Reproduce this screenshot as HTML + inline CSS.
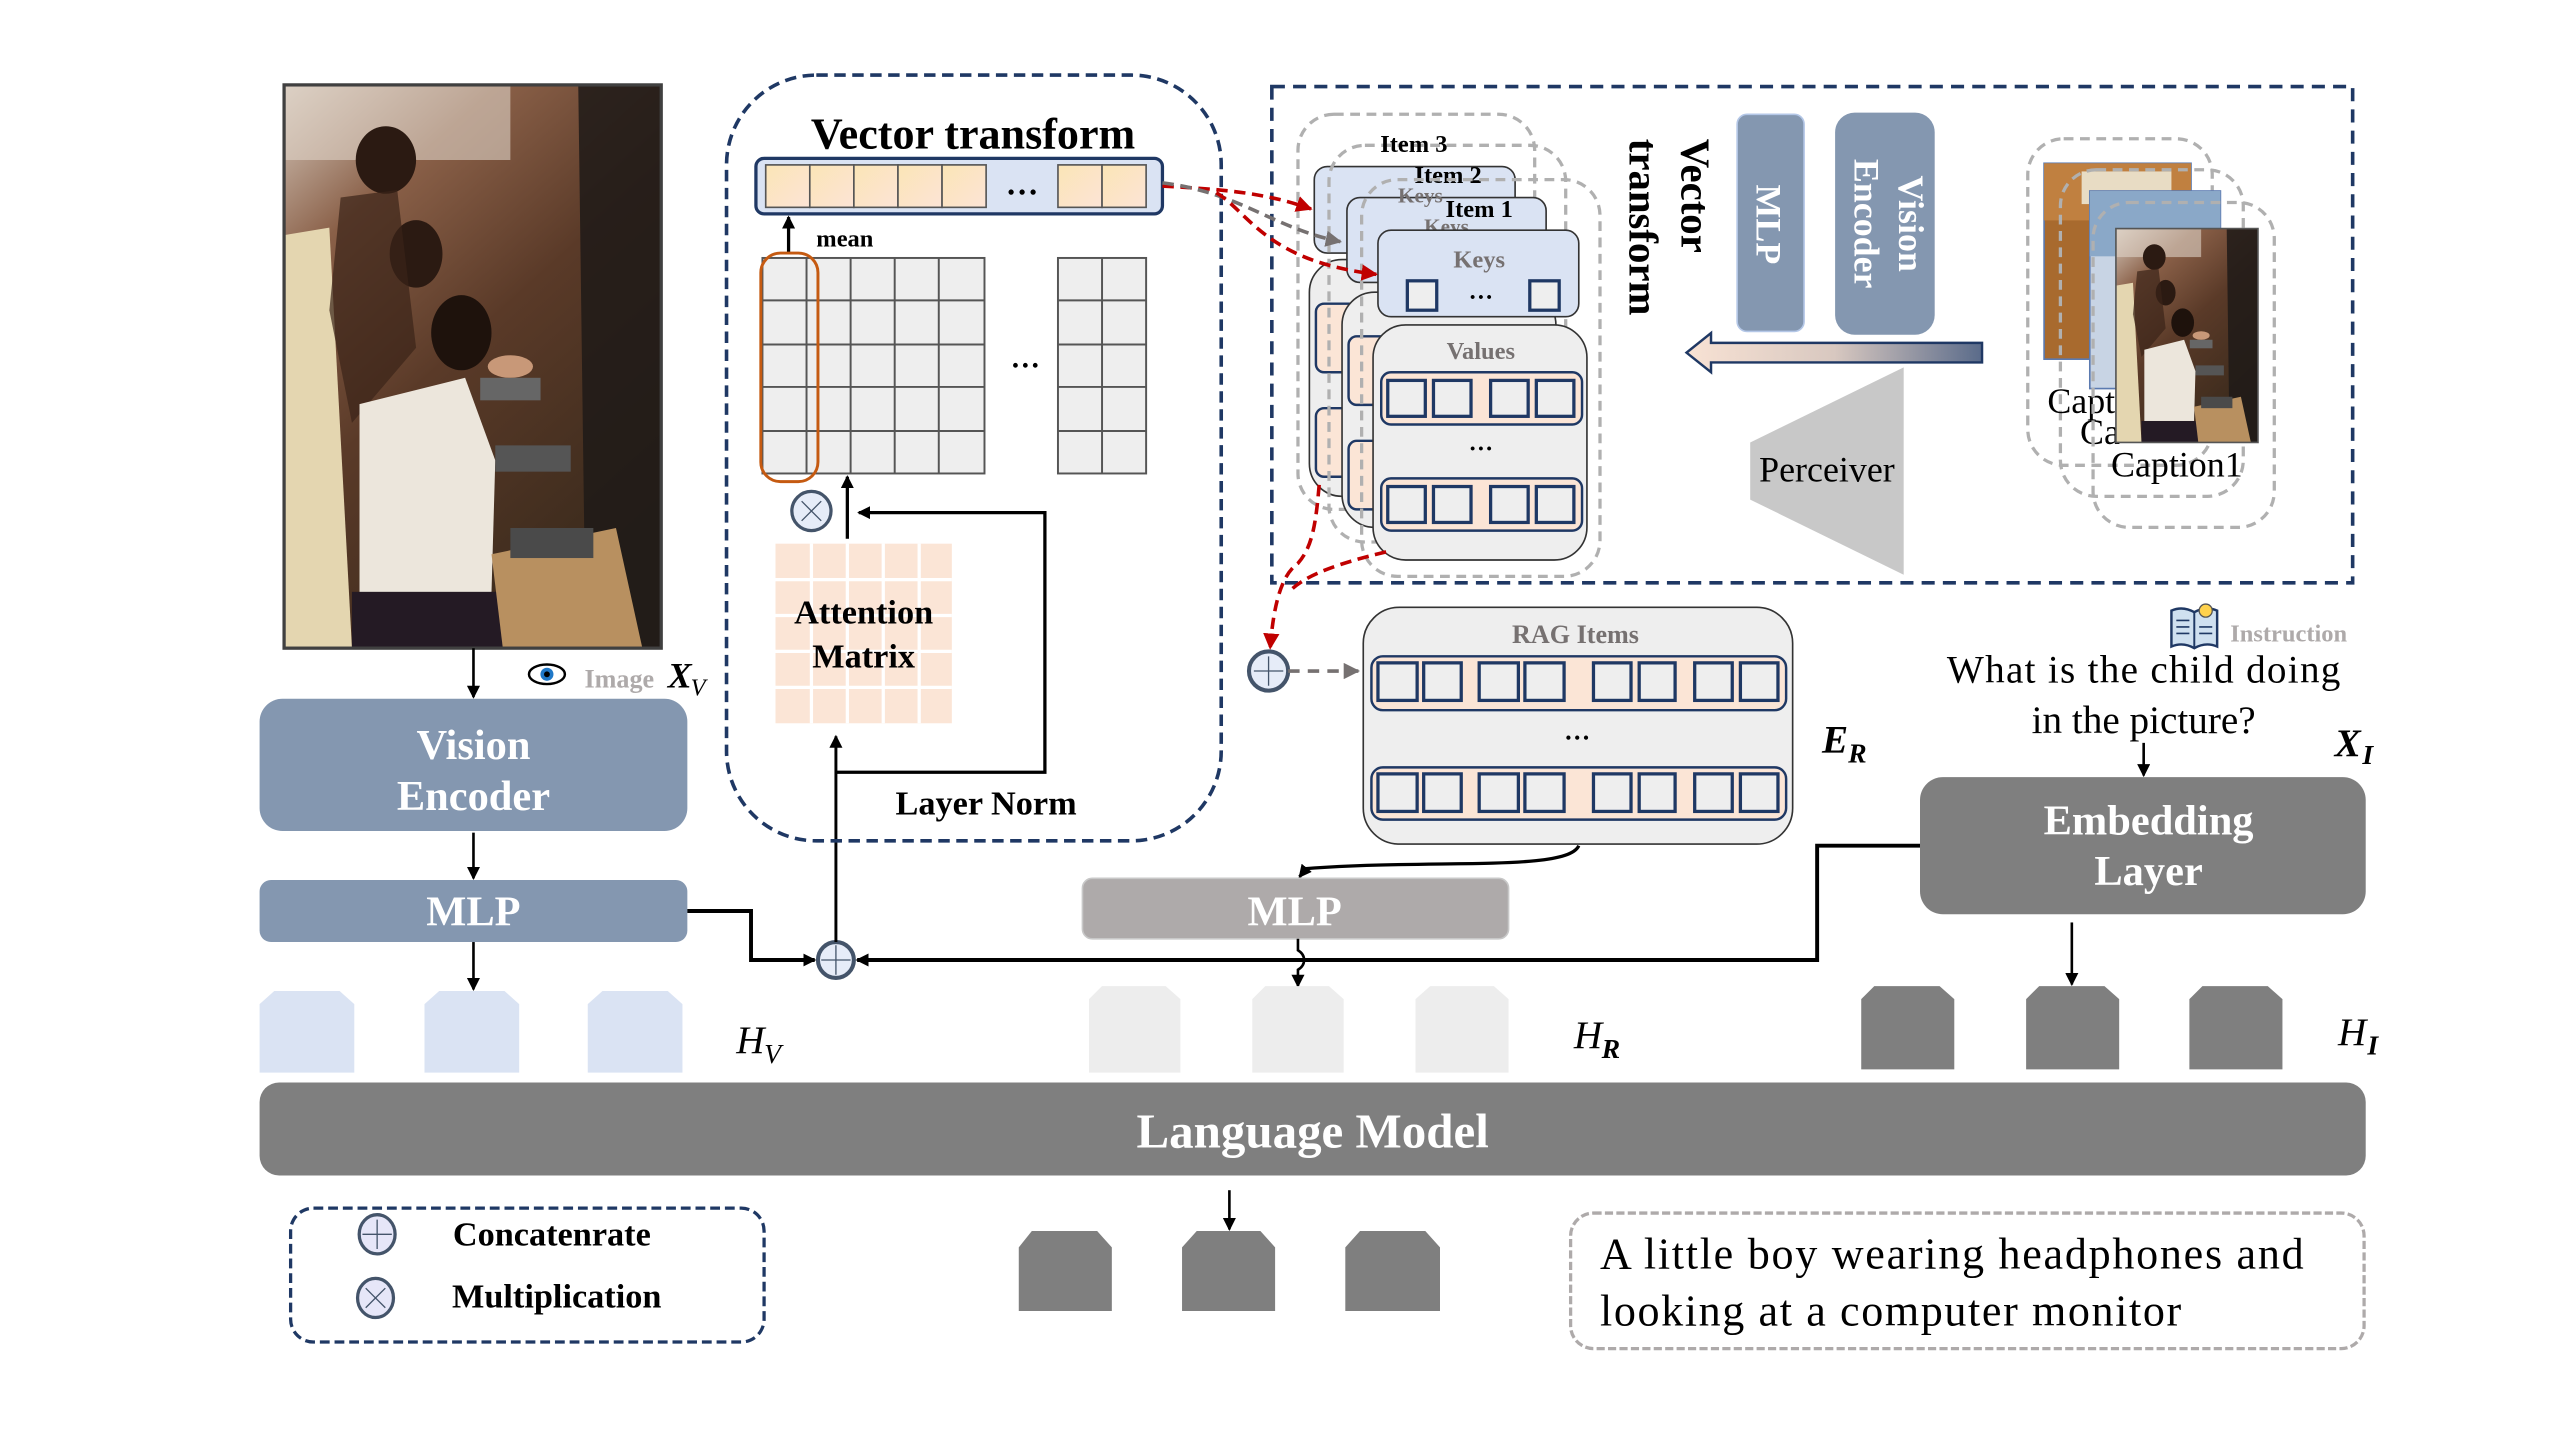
<!DOCTYPE html>
<html><head><meta charset="utf-8"><style>
html,body{margin:0;padding:0;background:#fff;}
svg{display:block;}
text{font-family:"Liberation Serif",serif;}
</style></head><body>
<svg width="2560" height="1440" viewBox="0 0 1568 882" preserveAspectRatio="none" xmlns="http://www.w3.org/2000/svg">
<defs>
<marker id="ah" markerWidth="8" markerHeight="8" refX="7" refY="4" orient="auto" markerUnits="userSpaceOnUse"><path d="M0,0 L8,4 L0,8 Z" fill="#000"/></marker>
<marker id="ahr" markerWidth="10" markerHeight="10" refX="9" refY="5" orient="auto" markerUnits="userSpaceOnUse"><path d="M0,0 L10,5 L0,10 Z" fill="#c00000"/></marker>
<marker id="ahg" markerWidth="10" markerHeight="10" refX="9" refY="5" orient="auto" markerUnits="userSpaceOnUse"><path d="M0,0 L10,5 L0,10 Z" fill="#767171"/></marker>
<linearGradient id="cell" x1="0" y1="0" x2="1" y2="1"><stop offset="0" stop-color="#fbe5b6"/><stop offset="1" stop-color="#fce4d6"/></linearGradient>
<linearGradient id="arr" x1="0" y1="0" x2="1" y2="0"><stop offset="0" stop-color="#f8e2d4"/><stop offset="0.5" stop-color="#d8c8c0"/><stop offset="1" stop-color="#5a6b8a"/></linearGradient>
<linearGradient id="photo" x1="0" y1="0" x2="0.6" y2="1"><stop offset="0" stop-color="#d8ccc0"/><stop offset="0.25" stop-color="#8a6048"/><stop offset="0.55" stop-color="#5a3a28"/><stop offset="1" stop-color="#3a2a1c"/></linearGradient>
<g id="photoimg">
<rect x="0" y="0" width="100" height="150" fill="url(#photo)"/>
<rect x="0" y="0" width="60" height="20" fill="#e0d4c8" opacity="0.6"/>
<path d="M78,0 L100,0 L100,150 L80,150 Z" fill="#1e1a18" opacity="0.85"/>
<path d="M0,40 L12,38 L18,150 L0,150 Z" fill="#e4d6b0"/>
<ellipse cx="27" cy="20" rx="8" ry="9" fill="#2b1a12"/>
<ellipse cx="35" cy="45" rx="7" ry="9" fill="#2b1a12"/>
<ellipse cx="47" cy="66" rx="8" ry="10" fill="#1e120c"/>
<path d="M15,30 L30,28 L35,70 L18,90 L12,60 Z" fill="#3a2418" opacity="0.7"/>
<path d="M20,85 L48,78 L56,100 L55,135 L20,140 Z" fill="#ece6dc"/>
<rect x="18" y="135" width="40" height="15" fill="#241a24"/>
<path d="M55,125 L88,118 L95,150 L58,150 Z" fill="#b89060"/>
<rect x="60" y="118" width="22" height="8" fill="#4a4a4a"/>
<rect x="56" y="96" width="20" height="7" fill="#555"/>
<rect x="52" y="78" width="16" height="6" fill="#666"/>
<ellipse cx="60" cy="75" rx="6" ry="3" fill="#c89878"/>
</g>
</defs>

<!-- Photo -->
<g transform="translate(174,52) scale(2.31,2.3)"><use href="#photoimg"/></g>
<rect x="174" y="52" width="231" height="345" fill="none" stroke="#404040" stroke-width="2"/>

<!-- Vision encoder column -->
<line x1="290" y1="397" x2="290" y2="427" stroke="#000" stroke-width="1.6" marker-end="url(#ah)"/>
<ellipse cx="335" cy="413" rx="11" ry="6" fill="#fff" stroke="#000" stroke-width="1.5"/>
<circle cx="335" cy="413" r="4" fill="#1f78c8"/><circle cx="335" cy="413" r="1.8" fill="#000"/>
<text x="358" y="421" font-size="16" font-weight="bold" fill="#aeaaaa">Image</text>
<text x="409" y="421" font-size="22" font-weight="bold" font-style="italic">X</text>
<text x="423" y="426" font-size="15" font-style="italic">V</text>
<rect x="159" y="428" width="262" height="81" rx="14" fill="#8497b0"/>
<text x="290" y="465" font-size="26" font-weight="bold" fill="#fff" text-anchor="middle">Vision</text>
<text x="290" y="496" font-size="26" font-weight="bold" fill="#fff" text-anchor="middle">Encoder</text>
<line x1="290" y1="510" x2="290" y2="538" stroke="#000" stroke-width="1.6" marker-end="url(#ah)"/>
<rect x="159" y="539" width="262" height="38" rx="7" fill="#8497b0"/>
<text x="290" y="567" font-size="26" font-weight="bold" fill="#fff" text-anchor="middle">MLP</text>
<line x1="290" y1="577" x2="290" y2="606" stroke="#000" stroke-width="1.6" marker-end="url(#ah)"/>
<g fill="#dae3f3">
<path d="M168,607 L208,607 L217,615 L217,657 L159,657 L159,615 Z"/>
<path d="M269,607 L309,607 L318,615 L318,657 L260,657 L260,615 Z"/>
<path d="M369,607 L409,607 L418,615 L418,657 L360,657 L360,615 Z"/>
</g>
<text x="451" y="645" font-size="24" font-style="italic">H</text><text x="468" y="651" font-size="17" font-style="italic">V</text>

<!-- connections to concat -->
<path d="M421,558 L460,558 L460,588 L499,588" fill="none" stroke="#000" stroke-width="2.4" marker-end="url(#ah)"/>
<path d="M1176,518 L1113,518 L1113,588 L525,588" fill="none" stroke="#000" stroke-width="2.4" marker-end="url(#ah)"/>
<circle cx="512" cy="588" r="11" fill="#e6ecf8" stroke="#44546a" stroke-width="2.5"/>
<path d="M512,579 V597 M503,588 H521" stroke="#44546a" stroke-width="0.8"/>
<line x1="512" y1="577" x2="512" y2="451" stroke="#000" stroke-width="1.8" marker-end="url(#ah)"/>

<!-- Vector transform box -->
<rect x="445" y="46" width="303" height="469" rx="55" fill="none" stroke="#1f3864" stroke-width="2.2" stroke-dasharray="7,4"/>
<text x="596" y="91" font-size="27" font-weight="bold" text-anchor="middle">Vector transform</text>
<rect x="463" y="97" width="249" height="34" rx="5" fill="#dae3f3" stroke="#1f3864" stroke-width="2"/>
<g fill="url(#cell)" stroke="#555" stroke-width="1">
<rect x="469" y="101" width="27" height="26"/><rect x="496" y="101" width="27" height="26"/><rect x="523" y="101" width="27" height="26"/><rect x="550" y="101" width="27" height="26"/><rect x="577" y="101" width="27" height="26"/>
<rect x="648" y="101" width="27" height="26"/><rect x="675" y="101" width="27" height="26"/>
</g>
<text x="626" y="119" font-size="20" font-weight="bold" text-anchor="middle">…</text>
<line x1="483" y1="155" x2="483" y2="133" stroke="#000" stroke-width="2" marker-end="url(#ah)"/>
<text x="500" y="151" font-size="15" font-weight="bold">mean</text>
<g fill="#eeeeee" stroke="#555" stroke-width="1.2">
<rect x="467" y="158" width="136" height="132"/>
<rect x="648" y="158" width="54" height="132"/>
</g>
<path d="M494,158 V290 M521,158 V290 M548,158 V290 M575,158 V290 M467,184 H603 M467,211 H603 M467,237 H603 M467,264 H603 M675,158 V290 M648,184 H702 M648,211 H702 M648,237 H702 M648,264 H702" stroke="#555" stroke-width="1.2"/>
<text x="628" y="225" font-size="18" font-weight="bold" text-anchor="middle">…</text>
<rect x="466" y="155" width="35" height="140" rx="12" fill="none" stroke="#c55a11" stroke-width="1.8"/>
<circle cx="497" cy="313" r="12" fill="#e6ecf8" stroke="#44546a" stroke-width="2"/>
<path d="M491,307 L503,319 M503,307 L491,319" stroke="#44546a" stroke-width="0.8"/>
<line x1="519" y1="330" x2="519" y2="292" stroke="#000" stroke-width="2" marker-end="url(#ah)"/>
<path d="M512,473 L640,473 L640,314 L526,314" fill="none" stroke="#000" stroke-width="2" marker-end="url(#ah)"/>
<g fill="#fbe5d6">
<rect x="475" y="333" width="108" height="110"/>
</g>
<path d="M497,333 V443 M519,333 V443 M541,333 V443 M563,333 V443 M475,355 H583 M475,377 H583 M475,399 H583 M475,421 H583" stroke="#fff" stroke-width="2"/>
<text x="529" y="382" font-size="21" font-weight="bold" text-anchor="middle">Attention</text>
<text x="529" y="409" font-size="21" font-weight="bold" text-anchor="middle">Matrix</text>
<text x="604" y="499" font-size="21" font-weight="bold" text-anchor="middle">Layer Norm</text>

<!-- Right dashed region -->
<rect x="779" y="53" width="662" height="304" fill="none" stroke="#1f3864" stroke-width="2.2" stroke-dasharray="8,5"/>

<!-- stacked items -->
<rect x="795" y="70" width="145" height="242" rx="22" fill="none" stroke="#b0b0b0" stroke-width="2" stroke-dasharray="6,4"/>
<rect x="805" y="102" width="123" height="53" rx="8" fill="#dae3f3" stroke="#333" stroke-width="1"/>
<rect x="802" y="159" width="131" height="145" rx="20" fill="#eeeeee" stroke="#333" stroke-width="1"/>
<rect x="806" y="186" width="30" height="42" rx="5" fill="#fbe5d6" stroke="#1f3864" stroke-width="1.5"/>
<rect x="806" y="250" width="30" height="42" rx="5" fill="#fbe5d6" stroke="#1f3864" stroke-width="1.5"/>
<rect x="814" y="89" width="145" height="243" rx="22" fill="none" stroke="#b0b0b0" stroke-width="2" stroke-dasharray="6,4"/>
<rect x="825" y="121" width="122" height="52" rx="8" fill="#dae3f3" stroke="#333" stroke-width="1"/>
<rect x="822" y="179" width="131" height="144" rx="20" fill="#eeeeee" stroke="#333" stroke-width="1"/>
<rect x="826" y="206" width="30" height="42" rx="5" fill="#fbe5d6" stroke="#1f3864" stroke-width="1.5"/>
<rect x="826" y="270" width="30" height="42" rx="5" fill="#fbe5d6" stroke="#1f3864" stroke-width="1.5"/>
<text x="866" y="93" font-size="15" font-weight="bold" text-anchor="middle">Item 3</text>
<text x="887" y="112" font-size="15" font-weight="bold" text-anchor="middle">Item 2</text>
<text x="870" y="124" font-size="13" fill="#767171" font-weight="bold" text-anchor="middle">Keys</text>
<text x="906" y="133" font-size="15" font-weight="bold" text-anchor="middle">Item 1</text>
<text x="886" y="143" font-size="13" fill="#767171" font-weight="bold" text-anchor="middle">Keys</text>
<rect x="834" y="110" width="146" height="243" rx="22" fill="none" stroke="#b0b0b0" stroke-width="2" stroke-dasharray="6,4"/>
<rect x="844" y="141" width="123" height="53" rx="8" fill="#dae3f3" stroke="#333" stroke-width="1"/>
<text x="906" y="164" font-size="15" font-weight="bold" fill="#767171" text-anchor="middle">Keys</text>
<rect x="862" y="172" width="18" height="18" fill="#eee" stroke="#1f3864" stroke-width="2"/>
<rect x="937" y="172" width="18" height="18" fill="#eee" stroke="#1f3864" stroke-width="2"/>
<text x="907" y="183" font-size="15" font-weight="bold" text-anchor="middle">…</text>
<rect x="841" y="199" width="131" height="144" rx="20" fill="#eeeeee" stroke="#333" stroke-width="1"/>
<text x="907" y="220" font-size="15" font-weight="bold" fill="#767171" text-anchor="middle">Values</text>
<rect x="846" y="228" width="123" height="32" rx="6" fill="#fbe5d6" stroke="#1f3864" stroke-width="1.5"/>
<rect x="846" y="293" width="123" height="32" rx="6" fill="#fbe5d6" stroke="#1f3864" stroke-width="1.5"/>
<g fill="#eee" stroke="#1f3864" stroke-width="2">
<rect x="850" y="233" width="23" height="22"/><rect x="878" y="233" width="23" height="22"/><rect x="913" y="233" width="23" height="22"/><rect x="941" y="233" width="23" height="22"/>
<rect x="850" y="298" width="23" height="22"/><rect x="878" y="298" width="23" height="22"/><rect x="913" y="298" width="23" height="22"/><rect x="941" y="298" width="23" height="22"/>
</g>
<text x="907" y="276" font-size="15" font-weight="bold" text-anchor="middle">…</text>

<!-- arrows from vector bar -->
<path d="M712,114 C750,116 775,118 803,128" fill="none" stroke="#c00000" stroke-width="2.2" stroke-dasharray="7,4" marker-end="url(#ahr)"/>
<path d="M712,112 C760,118 780,140 821,148" fill="none" stroke="#767171" stroke-width="2.2" stroke-dasharray="7,4" marker-end="url(#ahg)"/>
<path d="M745,118 C765,130 775,160 843,168" fill="none" stroke="#c00000" stroke-width="2.2" stroke-dasharray="7,4" marker-end="url(#ahr)"/>
<path d="M808,297 C806,320 804,335 795,345 C785,352 780,370 778,397" fill="none" stroke="#c00000" stroke-width="2.2" stroke-dasharray="7,4" marker-end="url(#ahr)"/>
<path d="M849,338 C820,345 800,352 790,362" fill="none" stroke="#c00000" stroke-width="2.2" stroke-dasharray="7,4"/>

<!-- vertical texts -->
<text transform="translate(1030,85) rotate(90)" font-size="25" font-weight="bold">Vector</text>
<text transform="translate(998,85) rotate(90)" font-size="25" font-weight="bold">transform</text>
<rect x="1064" y="70" width="41" height="133" rx="6" fill="#8497b0" stroke="#b4c7e7" stroke-width="1"/>
<text transform="translate(1076,113) rotate(90)" font-size="22" font-weight="bold" fill="#fff">MLP</text>
<rect x="1124" y="69" width="61" height="136" rx="12" fill="#8497b0"/>
<text transform="translate(1163,137) rotate(90)" font-size="22" font-weight="bold" fill="#fff" text-anchor="middle">Vision</text>
<text transform="translate(1136,137) rotate(90)" font-size="22" font-weight="bold" fill="#fff" text-anchor="middle">Encoder</text>
<path d="M1214,210 L1214,222 L1048,222 L1048,228 L1033,216 L1048,204 L1048,210 Z" fill="url(#arr)" stroke="#1f3864" stroke-width="1.5"/>
<path d="M1072,271 L1166,225 L1166,352 L1072,306 Z" fill="#c8c8c8"/>
<text x="1119" y="295" font-size="22" text-anchor="middle">Perceiver</text>

<!-- captions -->
<rect x="1242" y="85" width="113" height="200" rx="22" fill="none" stroke="#b0b0b0" stroke-width="2" stroke-dasharray="6,4"/>
<rect x="1252" y="100" width="90" height="120" fill="#a86a2e" stroke="#5b7ab0" stroke-width="1"/>
<rect x="1252" y="100" width="90" height="35" fill="#c08040"/>
<rect x="1275" y="105" width="55" height="20" fill="#e8dcc4"/>
<rect x="1262" y="104" width="112" height="200" rx="22" fill="none" stroke="#b0b0b0" stroke-width="2" stroke-dasharray="6,4"/>
<rect x="1280" y="117" width="80" height="121" fill="#c8d4e4" stroke="#5b7ab0" stroke-width="1"/>
<rect x="1280" y="117" width="80" height="40" fill="#8aa8c8"/>
<text x="1254" y="253" font-size="22">Capt</text>
<text x="1274" y="272" font-size="22">Ca</text>
<rect x="1282" y="124" width="111" height="199" rx="22" fill="none" stroke="#b0b0b0" stroke-width="2" stroke-dasharray="6,4"/>
<g transform="translate(1296,140) scale(0.87,0.873)"><use href="#photoimg"/></g>
<rect x="1296" y="140" width="87" height="131" fill="none" stroke="#555" stroke-width="1"/>
<text x="1293" y="292" font-size="22">Caption1</text>

<!-- RAG -->
<circle cx="777" cy="411" r="12" fill="#e6ecf8" stroke="#44546a" stroke-width="2.5"/>
<path d="M777,402 V420 M768,411 H786" stroke="#44546a" stroke-width="0.8"/>
<line x1="789" y1="411" x2="832" y2="411" stroke="#767171" stroke-width="2.2" stroke-dasharray="7,5" marker-end="url(#ahg)"/>
<rect x="835" y="372" width="263" height="145" rx="22" fill="#eeeeee" stroke="#333" stroke-width="1"/>
<text x="965" y="394" font-size="16" font-weight="bold" fill="#767171" text-anchor="middle">RAG Items</text>
<rect x="840" y="402" width="254" height="33" rx="7" fill="#fbe5d6" stroke="#1f3864" stroke-width="1.5"/>
<rect x="840" y="470" width="254" height="32" rx="7" fill="#fbe5d6" stroke="#1f3864" stroke-width="1.5"/>
<g fill="#eee" stroke="#1f3864" stroke-width="2">
<rect x="844" y="406" width="24" height="23"/><rect x="872" y="406" width="23" height="23"/><rect x="906" y="406" width="24" height="23"/><rect x="934" y="406" width="24" height="23"/><rect x="976" y="406" width="23" height="23"/><rect x="1004" y="406" width="22" height="23"/><rect x="1038" y="406" width="23" height="23"/><rect x="1066" y="406" width="23" height="23"/>
<rect x="844" y="474" width="24" height="23"/><rect x="872" y="474" width="23" height="23"/><rect x="906" y="474" width="24" height="23"/><rect x="934" y="474" width="24" height="23"/><rect x="976" y="474" width="23" height="23"/><rect x="1004" y="474" width="22" height="23"/><rect x="1038" y="474" width="23" height="23"/><rect x="1066" y="474" width="23" height="23"/>
</g>
<text x="966" y="453" font-size="16" font-weight="bold" text-anchor="middle">…</text>
<text x="1116" y="461" font-size="24" font-weight="bold" font-style="italic">E</text>
<text x="1132" y="467" font-size="17" font-weight="bold" font-style="italic">R</text>
<path d="M967,518 C960,534 880,526 800,532 L796,537" fill="none" stroke="#000" stroke-width="2" marker-end="url(#ah)"/>
<rect x="663" y="538" width="261" height="37" rx="6" fill="#aeaaaa" stroke="#c8c8c8" stroke-width="1"/>
<text x="793" y="567" font-size="26" font-weight="bold" fill="#fff" text-anchor="middle">MLP</text>
<path d="M795,575 L795,582 C800,585 800,591 795,594 L795,604" fill="none" stroke="#000" stroke-width="1.6" marker-end="url(#ah)"/>
<g fill="#ededed">
<path d="M675,604 L714,604 L723,612 L723,657 L667,657 L667,612 Z"/>
<path d="M775,604 L814,604 L823,612 L823,657 L767,657 L767,612 Z"/>
<path d="M876,604 L915,604 L924,612 L924,657 L867,657 L867,612 Z"/>
</g>
<text x="964" y="642" font-size="24" font-style="italic">H</text><text x="981" y="648" font-size="17" font-weight="bold" font-style="italic">R</text>

<!-- Instruction -->
<g transform="translate(1328,368)">
<path d="M2,6 Q9,3 16,7 Q23,3 30,6 L30,28 Q23,25 16,29 Q9,25 2,28 Z" fill="#cfe0f0" stroke="#1f3864" stroke-width="1.5"/>
<line x1="16" y1="7" x2="16" y2="29" stroke="#1f3864" stroke-width="1.2"/>
<path d="M5,12 H13 M5,16 H13 M5,20 H13 M19,16 H27 M19,20 H27" stroke="#1f3864" stroke-width="1"/>
<circle cx="23" cy="6" r="4" fill="#ffd24d" stroke="#555" stroke-width="0.8"/>
</g>
<text x="1366" y="393" font-size="15" font-weight="bold" fill="#aeaaaa">Instruction</text>
<text x="1313" y="418" font-size="24" text-anchor="middle" textLength="241">What is the child doing</text>
<text x="1313" y="449" font-size="24" text-anchor="middle">in the picture?</text>
<line x1="1313" y1="455" x2="1313" y2="475" stroke="#000" stroke-width="1.6" marker-end="url(#ah)"/>
<text x="1430" y="463" font-size="24" font-weight="bold" font-style="italic">X</text>
<text x="1447" y="468" font-size="17" font-weight="bold" font-style="italic">I</text>
<rect x="1176" y="476" width="273" height="84" rx="14" fill="#7f7f7f"/>
<text x="1316" y="511" font-size="26" font-weight="bold" fill="#fff" text-anchor="middle">Embedding</text>
<text x="1316" y="542" font-size="26" font-weight="bold" fill="#fff" text-anchor="middle">Layer</text>
<line x1="1269" y1="565" x2="1269" y2="603" stroke="#000" stroke-width="1.6" marker-end="url(#ah)"/>
<g fill="#7f7f7f">
<path d="M1148,604 L1188,604 L1197,612 L1197,655 L1140,655 L1140,612 Z"/>
<path d="M1249,604 L1289,604 L1298,612 L1298,655 L1241,655 L1241,612 Z"/>
<path d="M1349,604 L1389,604 L1398,612 L1398,655 L1341,655 L1341,612 Z"/>
</g>
<text x="1432" y="640" font-size="24" font-style="italic">H</text><text x="1450" y="646" font-size="17" font-weight="bold" font-style="italic">I</text>

<!-- Language Model -->
<rect x="159" y="663" width="1290" height="57" rx="12" fill="#7f7f7f"/>
<text x="804" y="703" font-size="30" font-weight="bold" fill="#fff" text-anchor="middle">Language Model</text>
<line x1="753" y1="729" x2="753" y2="753" stroke="#000" stroke-width="1.6" marker-end="url(#ah)"/>
<g fill="#7f7f7f">
<path d="M632,754 L672,754 L681,764 L681,803 L624,803 L624,764 Z"/>
<path d="M733,754 L772,754 L781,764 L781,803 L724,803 L724,764 Z"/>
<path d="M833,754 L873,754 L882,764 L882,803 L824,803 L824,764 Z"/>
</g>

<!-- Legend -->
<rect x="178" y="740" width="290" height="82" rx="14" fill="none" stroke="#1f3864" stroke-width="2" stroke-dasharray="6,3"/>
<ellipse cx="231" cy="756" rx="11" ry="12" fill="#e6e6f8" stroke="#44546a" stroke-width="2"/>
<path d="M231,747 V765 M222,756 H240" stroke="#44546a" stroke-width="0.8"/>
<text x="338" y="763" font-size="21" font-weight="bold" text-anchor="middle">Concatenrate</text>
<ellipse cx="230" cy="795" rx="11" ry="12" fill="#e6e6f8" stroke="#44546a" stroke-width="2"/>
<path d="M224,789 L236,801 M236,789 L224,801" stroke="#44546a" stroke-width="0.8"/>
<text x="341" y="801" font-size="21" font-weight="bold" text-anchor="middle">Multiplication</text>

<!-- Answer -->
<rect x="962" y="743" width="486" height="83" rx="14" fill="none" stroke="#aeaaaa" stroke-width="2" stroke-dasharray="5,2"/>
<text x="980" y="777" font-size="27" textLength="431">A little boy wearing headphones and</text>
<text x="980" y="812" font-size="27" textLength="356">looking at a computer monitor</text>
</svg>
</body></html>
